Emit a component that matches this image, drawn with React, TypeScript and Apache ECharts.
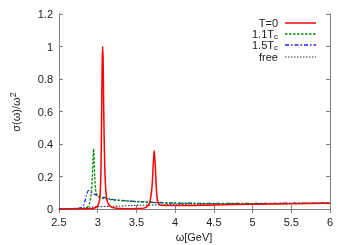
import React, { useEffect, useRef } from "react";
import * as echarts from "echarts";

const xTicks = [2.5, 3, 3.5, 4, 4.5, 5, 5.5, 6];
const yTicks = [0, 0.2, 0.4, 0.6, 0.8, 1, 1.2];

const seriesNames = ["T=0", "1.1T_c", "1.5T_c", "free"];

const t0Data: [number, number][] = [
  [2.5, 0], [2.8, 0.001], [2.9, 0.002], [2.96, 0.006], [3.0, 0.02], [3.025, 0.06],
  [3.04, 0.2], [3.05, 0.55], [3.058, 0.9], [3.064, 1.0], [3.07, 0.92], [3.078, 0.6],
  [3.09, 0.28], [3.105, 0.11], [3.125, 0.045], [3.16, 0.018], [3.22, 0.006], [3.35, 0.002],
  [3.55, 0.003], [3.63, 0.012], [3.67, 0.04], [3.7, 0.13], [3.718, 0.28], [3.73, 0.36],
  [3.742, 0.28], [3.758, 0.12], [3.775, 0.045], [3.8, 0.025], [3.85, 0.021], [4.0, 0.021],
  [4.5, 0.025], [5.0, 0.029], [5.5, 0.033], [6.0, 0.036],
];

const tc11Data: [number, number][] = [
  [2.5, 0], [2.75, 0.001], [2.83, 0.004], [2.87, 0.012], [2.895, 0.035], [2.915, 0.09],
  [2.93, 0.19], [2.94, 0.31], [2.947, 0.37], [2.954, 0.3], [2.962, 0.19], [2.975, 0.11],
  [2.99, 0.085], [3.03, 0.07], [3.1, 0.062], [3.3, 0.052], [3.5, 0.045],
  [3.8, 0.038], [4.2, 0.034], [5.0, 0.033], [6.0, 0.036],
];

const tc15Data: [number, number][] = [
  [2.5, 0], [2.65, 0.002], [2.76, 0.005], [2.8, 0.012], [2.83, 0.04], [2.855, 0.085],
  [2.88, 0.113], [2.91, 0.105], [2.95, 0.093], [3.0, 0.082], [3.1, 0.068], [3.2, 0.058],
  [3.4, 0.05], [3.6, 0.044], [3.8, 0.04], [4.0, 0.037], [4.5, 0.034], [5.0, 0.034],
  [5.5, 0.036], [6.0, 0.037],
];

const freeData: [number, number][] = [
  [2.5, 0.001], [2.65, 0.003], [2.78, 0.005], [2.84, 0.008], [2.9, 0.011], [3.0, 0.014],
  [3.2, 0.017], [3.5, 0.022], [3.8, 0.026], [4.2, 0.029], [4.6, 0.031], [5.0, 0.032],
  [5.5, 0.034], [6.0, 0.036],
];

const colors = ["#ff0000", "#008a00", "#2020ff", "#333333"];
const dashes: (number[] | "solid")[] = ["solid", [2.5, 1.5], [4, 2, 1.5, 2], [1.5, 1.5]];
const widths = [1.5, 1.3, 1.3, 1.1];
const datasets = [t0Data, tc11Data, tc15Data, freeData];

export default function App() {
  const ref = useRef<HTMLDivElement>(null);
  useEffect(() => {
    if (!ref.current) return;
    const chart = echarts.init(ref.current, null, { renderer: "svg" });
    const font = "Liberation Sans, Arial, sans-serif";
    const frame = "#808080";
    const legendRows = [23, 34, 45, 57];
    const legendTexts = [
      "{a|T=0}",
      "{a|1.1T}{s|c}",
      "{a|1.5T}{s|c}",
      "{a|free}",
    ];
    const graphics: any[] = [];
    legendTexts.forEach((t, i) => {
      graphics.push({
        type: "text",
        x: 278,
        y: legendRows[i],
        style: {
          text: t,
          align: "right",
          verticalAlign: "middle",
          fill: "#222",
          rich: {
            a: { fontSize: 11, fontFamily: font, fill: "#222" },
            s: { fontSize: 8, fontFamily: font, fill: "#222", padding: [5, 0, 0, 0] },
          },
        },
      });
      graphics.push({
        type: "line",
        shape: { x1: 285, y1: legendRows[i], x2: 316, y2: legendRows[i] },
        style: {
          stroke: colors[i],
          lineWidth: widths[i],
          lineDash: dashes[i] === "solid" ? null : dashes[i],
        },
      });
    });
    graphics.push({
      type: "text",
      x: 16,
      y: 112,
      rotation: Math.PI / 2,
      style: {
        text: "{a|σ(ω)/ω}{s|2}",
        align: "center",
        verticalAlign: "middle",
        rich: {
          a: { fontSize: 11, fontFamily: font, fill: "#222" },
          s: { fontSize: 9, fontFamily: font, fill: "#222", padding: [0, 0, 7, 0] },
        },
      },
    });
    graphics.push({
      type: "text",
      x: 194,
      y: 237,
      style: {
        text: "ω[GeV]",
        align: "center",
        verticalAlign: "middle",
        fontSize: 11,
        fontFamily: font,
        fill: "#222",
      },
    });

    const axisCommon = {
      axisLine: { show: true, lineStyle: { color: frame, width: 1 } },
      axisTick: { show: true, inside: true, length: 4, lineStyle: { color: frame } },
      splitLine: { show: false },
    };

    chart.setOption({
      animation: false,
      grid: { left: 59, right: 20, top: 14, bottom: 36 },
      xAxis: [
        {
          type: "value",
          min: xTicks[0],
          max: xTicks[xTicks.length - 1],
          interval: 0.5,
          ...axisCommon,
          axisLabel: { color: "#222", fontSize: 11, fontFamily: font, margin: 7 },
        },
        {
          type: "value",
          position: "top",
          min: xTicks[0],
          max: xTicks[xTicks.length - 1],
          interval: 0.5,
          ...axisCommon,
          axisLabel: { show: false },
        },
      ],
      yAxis: [
        {
          type: "value",
          min: yTicks[0],
          max: yTicks[yTicks.length - 1],
          interval: 0.2,
          ...axisCommon,
          axisLabel: { color: "#222", fontSize: 11, fontFamily: font, margin: 6 },
        },
        {
          type: "value",
          position: "right",
          min: yTicks[0],
          max: yTicks[yTicks.length - 1],
          interval: 0.2,
          ...axisCommon,
          axisLabel: { show: false },
        },
      ],
      series: datasets.map((d, i) => ({
        name: seriesNames[i],
        type: "line",
        data: d,
        showSymbol: false,
        symbol: "none",
        smooth: 0.3,
        clip: true,
        z: 10 - i,
        lineStyle: { color: colors[i], width: widths[i], type: dashes[i] },
      })),
      graphic: graphics,
    });
    return () => chart.dispose();
  }, []);
  return (
    <div
      ref={ref}
      style={{ position: "fixed", left: 0, top: 0, width: 350, height: 245 }}
    />
  );
}
